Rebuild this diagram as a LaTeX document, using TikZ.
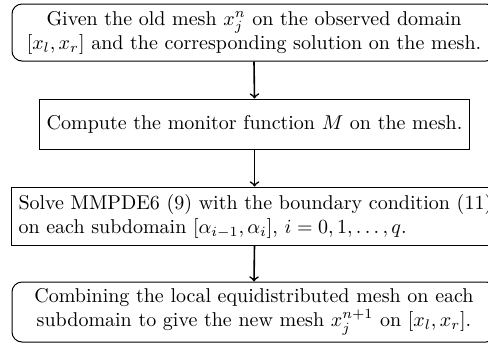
\documentclass[tikz,border=0pt]{standalone}
\begin{document}
\begin{tikzpicture}[x=0.5pt,y=-0.5pt,
  box/.style={draw, line width=0.5pt, inner xsep=3.5pt, inner ysep=2pt, font=\normalsize},
  rbox/.style={box, rounded corners=5pt},
  flow/.style={->, >=to, line width=0.8pt}]
\useasboundingbox (0,0) rectangle (488,344);
\clip (0,0) rectangle (488,344);
\node[rbox, text width=235pt, minimum height=28.5pt, align=center] (a) at (254,32.5)
  {Given the old mesh $x_j^n$ on the observed domain\\
   $[x_l,x_r]$ and the corresponding solution on the mesh.};
\node[box, minimum width=213.5pt, minimum height=25pt, align=center] (b) at (254.5,124)
  {Compute the monitor function $M$ on the mesh.};
\node[box, text width=240pt, minimum height=29pt, align=left, anchor=west] (c) at (11,216)
  {Solve MMPDE6 (9) with the boundary condition (11)\\
   on each subdomain $[\alpha_{i-1},\alpha_i]$, $i=0,1,\ldots,q$.};
\node[rbox, text width=235pt, minimum height=30pt, align=center] (d) at (254,312)
  {Combining the local equidistributed mesh on each\\
   subdomain to give the new mesh $x_j^{n+1}$ on $[x_l,x_r]$.};
\draw[flow] (a.south) -- (b.north);
\draw[flow] (b.south) -- (b.south |- c.north);
\draw[flow] (b.south |- c.south) -- (d.north);
\end{tikzpicture}
\end{document}
